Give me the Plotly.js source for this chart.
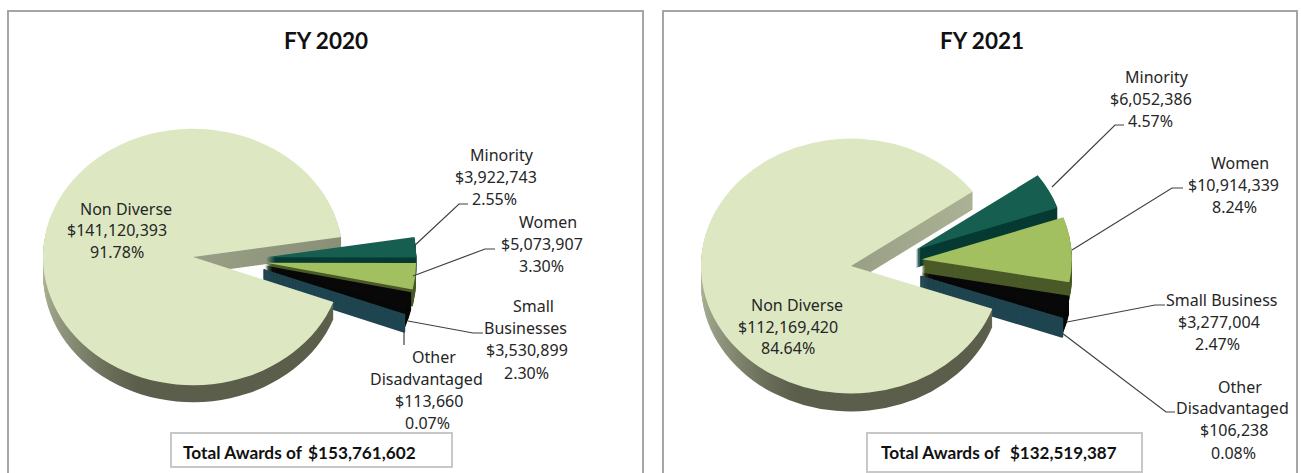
<!DOCTYPE html>
<html><head><meta charset="utf-8">
<script src="https://cdn.plot.ly/plotly-3.0.1.min.js"></script>
<style>html,body{margin:0;padding:0;background:#fff;overflow:hidden}#chart{width:1301px;height:473px}</style>
</head><body><div id="chart"></div>
<script>
const W = 1301, H = 473;
// ---- data ----
const categories = ['Minority','Women','Small Businesses','Other Disadvantaged','Non Diverse'];
const values2020 = [3922743, 5073907, 3530899, 113660, 141120393];
const values2021 = [6052386, 10914339, 3277004, 106238, 112169420];
const amounts2020 = ['$3,922,743','$5,073,907','$3,530,899','$113,660','$141,120,393'];
const amounts2021 = ['$6,052,386','$10,914,339','$3,277,004','$106,238','$112,169,420'];
const percents2020 = ['2.55%','3.30%','2.30%','0.07%','91.78%'];
const percents2021 = ['4.57%','8.24%','2.47%','0.08%','84.64%'];
const names2020 = [['Minority'],['Women'],['Small','Businesses'],['Other','Disadvantaged'],['Non Diverse']];
const names2021 = [['Minority'],['Women'],['Small Business'],['Other','Disadvantaged'],['Non Diverse']];
const titles = ['FY 2020','FY 2021'];
const totalPrefix = 'Total Awards of';
const totals = ['$153,761,602','$132,519,387'];
// ---- styles ----
const topColors  = ['#165e50','#a2c05f','#080808','#1f4550','#dde8c3'];
const wallColors = ['#063a33','#4a5a28','#080808','#1f4550','#6f7460'];
const sliceLineWidths = [0,0,0,1.6,0];
const font = 'Noto Sans, sans-serif', boldFont = 'Lato, sans-serif';
const labelSize = 16, textColor = '#262626';
// geometry of each panel (nudges: per-slice explode fine-tuning, in px)
const panels = [
 {values:values2020, rotation:81, pull:0.49, s:0.855, depth:17, target:{x:193,y:257}, domX:[0,0.3436], domY:[0.0275,0.9725],
  nudges:[[0,5],[0,-1],[1,-9],[2,-9],[0,0]]},
 {values:values2021, rotation:54.3, pull:0.48, s:0.85, depth:18, target:{x:851,y:266}, domX:[0.5,0.8413], domY:[0.03065,0.96935],
  nudges:[[1,12],[-1,-2],[1,-9],[2,-10],[0,0]]}
];
const labelPos2020 = [
 {xs:[502,496,494], ys:[155,177,199]},
 {xs:[548,542,541], ys:[222,244,266]},
 {xs:[533,525,527,526], ys:[306,328,350,373]},
 {xs:[434,426,429,427], ys:[357,379,401,423]},
 {xs:[126,117,117], ys:[209,230,252]}
];
const labelPos2021 = [
 {xs:[1157,1151,1150], ys:[77,99,121]},
 {xs:[1240,1233,1234], ys:[163,185,207]},
 {xs:[1221,1219,1217], ys:[300,322,344]},
 {xs:[1240,1232,1234,1233], ys:[387,408,430,453]},
 {xs:[797,788,788], ys:[305,327,348]}
];
const px = x => x/W, py = y => 1-y/H;
const annotations = [], shapes = [];
function text(t,x,y,size,family,anchor,bold){
  annotations.push({text: bold?'<b>'+t+'</b>':t, x:px(x), y:py(y), xref:'paper', yref:'paper', showarrow:false,
    xanchor:anchor||'center', yanchor:'middle', font:{family:family, size:size, color: bold?'#111':textColor}, borderpad:0});
}
function addLabels(names, amounts, percents, pos){
  names.forEach((n,i)=>{
    const lines = n.concat([amounts[i], percents[i]]);
    lines.forEach((l,j)=> text(l,pos[i].xs[j],pos[i].ys[j],labelSize,font));
  });
}
addLabels(names2020, amounts2020, percents2020, labelPos2020);
addLabels(names2021, amounts2021, percents2021, labelPos2021);
text(titles[0],326,41,22.5,boldFont,'center',true);
text(titles[1],982,41,22.5,boldFont,'center',true);
text(totalPrefix,182,452,17.3,boldFont,'left',true);
text(totals[0],307,452,17.2,boldFont,'left',true);
text(totalPrefix,880,452,17.3,boldFont,'left',true);
text(totals[1],1009,452,17,boldFont,'left',true);

function rect(x0,y0,x1,y1,color,w){
  shapes.push({type:'rect',xref:'paper',yref:'paper',x0:px(x0),x1:px(x1),y0:py(y0),y1:py(y1),
    line:{color:color,width:w},fillcolor:'rgba(0,0,0,0)',layer:'below'});
}
rect(8,11,643,520,'#a6a6a6',2);
rect(663,11,1297,520,'#a6a6a6',2);
rect(171,433,452,467,'#c8c8c8',2);
rect(867,433,1142,472,'#c8c8c8',2);
const leaders = [
 [[413,247],[459,204],[468,204]],
 [[413,276],[485,249],[495,249]],
 [[408,321],[473,333],[483,333]],
 [[404,331],[404,345]],
 [[1052,187],[1115,125],[1124,125]],
 [[1072,250],[1172,188],[1183,188]],
 [[1067,322],[1155,305],[1165,305]],
 [[1062,333],[1166,412],[1175,412]]
];
leaders.forEach(pts=>{
  const path = pts.map((p,i)=>(i?'L':'M')+px(p[0])+','+py(p[1])).join(' ');
  shapes.push({type:'path',path:path,xref:'paper',yref:'paper',line:{color:'#404040',width:1.2},layer:'above'});
});
// ---- pies: a stack of wall layers + top face ----
const traces = [], placements = [];
panels.forEach((p,pi)=>{
  const pullArr = p.values.map((v,i)=> i<4 ? p.pull : 0);
  const base = {type:'pie', values:p.values, labels:categories, sort:false, direction:'clockwise', rotation:p.rotation,
    pull:pullArr, textinfo:'none', showlegend:false, domain:{x:p.domX,y:p.domY}};
  const cx=(p.domX[0]+p.domX[1])/2*W, cy=(1-(p.domY[0]+p.domY[1])/2)*H;
  p.cx=cx; p.cy=cy;
  for(let d=p.depth;d>=0;d--){
    const cols = d?wallColors:topColors;
    traces.push(Object.assign({},base,{
      marker:{colors:cols,line:{width:sliceLineWidths,color:cols}},
      hoverinfo:d?'skip':'label+value+percent'}));
    placements.push({panel:pi,wall:d>0,tx:p.target.x-cx,ty:p.target.y+d-p.s*cy,s:p.s});
  }
});
const gd = document.getElementById('chart');
Plotly.newPlot(gd,traces,{width:W,height:H,margin:{l:0,r:0,t:0,b:0},paper_bgcolor:'#fff',plot_bgcolor:'#fff',
  annotations:annotations,shapes:shapes,showlegend:false},{displayModeBar:false,responsive:false}).then(()=>{
  const NS='http://www.w3.org/2000/svg', svg=gd.querySelector('svg.main-svg');
  const defs=svg.querySelector('defs')||svg.appendChild(document.createElementNS(NS,'defs'));
  const a=1,b=2.565,n=a*a+b*b,f0=-149,f1=320;
  panels.forEach((p,pi)=>{
    const g=document.createElementNS(NS,'linearGradient');
    g.setAttribute('id','wallGrad'+pi);g.setAttribute('gradientUnits','userSpaceOnUse');
    g.setAttribute('x1',p.cx+f0*a/n);g.setAttribute('y1',p.cy+f0*b/n);
    g.setAttribute('x2',p.cx+f1*a/n);g.setAttribute('y2',p.cy+f1*b/n);
    [[0,'#b3b99b'],[0.5,'#8a9078'],[0.96,'#5a5e4a'],[1,'#5a5e4a']].forEach(st=>{
      const e=document.createElementNS(NS,'stop');e.setAttribute('offset',st[0]);e.setAttribute('stop-color',st[1]);g.appendChild(e);
    });
    defs.appendChild(g);
  });
  gd.querySelectorAll('.pielayer .trace').forEach((t,i)=>{
    const pl=placements[i], p=panels[pl.panel];
    t.setAttribute('transform','translate('+pl.tx+','+pl.ty+') scale(1,'+pl.s+')');
    const sl=t.querySelectorAll('.slice path.surface');
    sl.forEach((path,k)=>{
      const nu=p.nudges[k];
      if(nu&&(nu[0]||nu[1])) path.setAttribute('transform','translate('+nu[0]+','+(nu[1]/pl.s)+')');
    });
    if(pl.wall&&sl[4]) sl[4].style.fill='url(#wallGrad'+pl.panel+')';
  });
});
</script></body></html>
